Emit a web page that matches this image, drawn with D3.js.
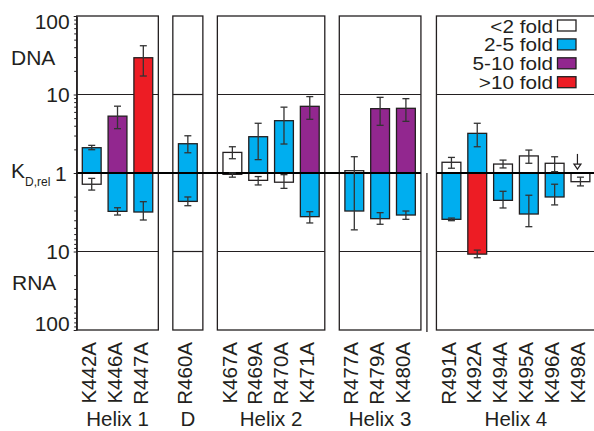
<!DOCTYPE html>
<meta charset="utf-8">
<script src="https://d3js.org/d3.v7.min.js"></script>
<style>
  body { margin: 0; background: #fff; }
  text { font-family: "Liberation Sans", Arial, sans-serif; fill: #231f20; }
</style>
<body>
<div id="chart"></div>
<script>
// panels and mutants
var groups = ["Helix 1", "D", "Helix 2", "Helix 3", "Helix 4"];
var groupSizes = [3, 1, 4, 3, 6];
var mutants = ["K442A", "K446A", "R447A", "R460A", "K467A", "R469A", "R470A", "K471A",
  "R477A", "R479A", "K480A", "R491A", "K492A", "K494A", "K495A", "K496A", "K498A"];

// fold preference for DNA (bars up) and RNA (bars down), with error bar ends
var dnaFold = [2.1, 5.3, 29.4, 2.36, 1.83, 2.9, 4.64, 7.07, 1.07, 6.6, 6.67, 1.37, 3.2, 1.30, 1.65, 1.33, null];
var dnaLo   = [1.98, 3.67, 17.2, 1.81, 1.52, 1.48, 2.34, 4.83, null, 4.05, 4.55, 1.15, 2.16, 1.16, 1.33, 1.04, null];
var dnaHi   = [2.25, 7.1, 41.8, 2.98, 2.16, 4.3, 6.9, 9.4, null, 9.2, 8.85, 1.58, 4.3, 1.46, 1.96, 1.61, null];
var rnaFold = [1.39, 3.08, 3.14, 2.3, 1.04, 1.24, 1.31, 3.6, 3.05, 3.82, 3.43, 3.89, 10.8, 2.23, 3.33, 2.02, 1.29];
// values below 1 sit on the DNA side (1/x)
var rnaLo   = [1.17, 2.77, 2.32, 2.02, 1.0, 1.11, 1.05, 3.11, 0.62, 3.2, 3.05, 3.75, 9.6, 1.71, 1.92, 1.39, 1.13];
var rnaHi   = [1.65, 3.43, 3.97, 2.61, 1.13, 1.42, 1.57, 4.33, 5.3, 4.5, 3.89, 4.05, 12.0, 2.79, 4.83, 2.55, 1.46];
// mutant with DNA binding below detection, drawn as an arrow
var arrowMutant = "K498A";
var arrowSpan = [1.75, 1.12];

var foldLabels = ["<2 fold", "2-5 fold", "5-10 fold", ">10 fold"];
var foldColors = ["#ffffff", "#00aeef", "#92278f", "#ed1c24"];
var majorTicks = [1, 10, 100];
var minorTicks = [2, 3, 4, 5, 6, 7, 8, 9, 20, 30, 40, 50, 60, 70, 80, 90];

var width = 594, height = 431;
var svg = d3.select("#chart").append("svg")
  .attr("width", width)
  .attr("height", height);

var yUp = d3.scaleLog().domain([1, 100]).range([173, 16]);
var yDn = d3.scaleLog().domain([1, 100]).range([173, 330]);
var color = d3.scaleThreshold().domain([2, 5, 10]).range(foldColors);

function yAt(side, v) {
  if (side == "dna") return v >= 1 ? yUp(v) : yDn(1 / v);
  return v >= 1 ? yDn(v) : yUp(1 / v);
}

// lay out the panels
var step = 25.8, pI = 0.27, pO = 0.217;
var gaps = [14.5, 14.5, 14.5, 15.5];
var panels = [];
var px = 76.7, idx = 0;
groupSizes.forEach(function(n, i) {
  var w = step * (n - pI + 2 * pO);
  var names = mutants.slice(idx, idx + n);
  var band = d3.scaleBand().domain(names).range([px, px + w]).paddingInner(pI).paddingOuter(pO);
  panels.push({ name: groups[i], x0: px, x1: px + w, band: band, start: idx, n: n });
  idx += n;
  px += w + (gaps[i] || 0);
});

var rows = [];
panels.forEach(function(p) {
  d3.range(p.start, p.start + p.n).forEach(function(i) {
    rows.push({ name: mutants[i], x: p.band(mutants[i]), bw: p.band.bandwidth(),
      dna: dnaFold[i], dLo: dnaLo[i], dHi: dnaHi[i],
      rna: rnaFold[i], rLo: rnaLo[i], rHi: rnaHi[i] });
  });
});

// panel frames and 10-fold lines
panels.forEach(function(p) {
  svg.append("rect")
    .attr("x", p.x0).attr("y", yUp(100))
    .attr("width", p.x1 - p.x0).attr("height", yDn(100) - yUp(100))
    .attr("fill", "none").attr("stroke", "#231f20").attr("stroke-width", 1.3);
  [yUp(10), yDn(10)].forEach(function(yy) {
    svg.append("line")
      .attr("x1", p.x0).attr("x2", p.x1).attr("y1", yy).attr("y2", yy)
      .attr("stroke", "#231f20").attr("stroke-width", 1.2);
  });
});

// separator before helix 4
var sepX = panels[3].x1 + 6;
svg.append("line")
  .attr("x1", sepX).attr("x2", sepX).attr("y1", yUp(1)).attr("y2", yDn(100) + 2)
  .attr("stroke", "#231f20").attr("stroke-width", 1.3);

// bars
svg.append("g").selectAll("rect")
  .data(rows.filter(function(d) { return d.dna != null; }))
  .enter().append("rect")
  .attr("x", function(d) { return d.x; })
  .attr("width", function(d) { return d.bw; })
  .attr("y", function(d) { return yUp(d.dna); })
  .attr("height", function(d) { return yUp(1) - yUp(d.dna); })
  .attr("fill", function(d) { return color(d.dna); })
  .attr("stroke", "#231f20").attr("stroke-width", 1.3);

svg.append("g").selectAll("rect")
  .data(rows)
  .enter().append("rect")
  .attr("x", function(d) { return d.x; })
  .attr("width", function(d) { return d.bw; })
  .attr("y", yDn(1))
  .attr("height", function(d) { return yDn(d.rna) - yDn(1); })
  .attr("fill", function(d) { return color(d.rna); })
  .attr("stroke", "#231f20").attr("stroke-width", 1.3);

// the 1 line
svg.append("line")
  .attr("x1", panels[0].x0).attr("x2", panels[3].x1).attr("y1", yUp(1)).attr("y2", yUp(1))
  .attr("stroke", "#000").attr("stroke-width", 2);
svg.append("line")
  .attr("x1", panels[4].x0).attr("x2", panels[4].x1).attr("y1", yUp(1)).attr("y2", yUp(1))
  .attr("stroke", "#000").attr("stroke-width", 2);

// error bars
function errorBar(cx, a, b) {
  var g = svg.append("g").attr("stroke", "#333").attr("stroke-width", 1.3);
  g.append("line").attr("x1", cx).attr("x2", cx).attr("y1", a).attr("y2", b);
  [a, b].forEach(function(yy) {
    g.append("line").attr("x1", cx - 3.5).attr("x2", cx + 3.5).attr("y1", yy).attr("y2", yy);
  });
}
rows.forEach(function(d) {
  var cx = d.x + d.bw / 2;
  if (d.dLo != null) errorBar(cx, yAt("dna", d.dLo), yAt("dna", d.dHi));
  if (d.rLo != null) errorBar(cx, yAt("rna", d.rLo), yAt("rna", d.rHi));
});

// arrow for the undetected DNA value
var ar = rows.find(function(d) { return d.name == arrowMutant; });
var ax = ar.x + ar.bw / 2 - 3;
var ay0 = yUp(arrowSpan[0]), ay1 = yUp(arrowSpan[1]);
svg.append("line").attr("x1", ax).attr("x2", ax).attr("y1", ay0).attr("y2", ay1 - 5)
  .attr("stroke", "#231f20").attr("stroke-width", 1.2);
svg.append("path")
  .attr("d", "M" + (ax - 3.5) + "," + (ay1 - 5) + "L" + (ax + 3.5) + "," + (ay1 - 5) + "L" + ax + "," + ay1 + "Z")
  .attr("fill", "#fff").attr("stroke", "#231f20").attr("stroke-width", 1.2);

// y axis
var axX = panels[0].x0;
function styleAxis(g) {
  g.select(".domain").attr("stroke", "#231f20").attr("stroke-width", 1.3);
  g.selectAll(".tick line").attr("stroke", "#231f20");
  g.selectAll("text").attr("font-size", 21).attr("fill", "#231f20")
    .style("font-family", "'Liberation Sans', Arial, sans-serif");
}
var aUp = svg.append("g").attr("transform", "translate(" + axX + ",0)")
  .call(d3.axisLeft(yUp).tickValues(majorTicks).tickFormat(d3.format("d"))
    .tickSize(3).tickSizeOuter(0).tickPadding(4));
styleAxis(aUp);
aUp.selectAll("text")
  .attr("dy", function(d) { return d == 100 ? "0.58em" : "0.34em"; })
  .attr("x", function(d) { return d == 1 ? -10 : -7; });

var aDn = svg.append("g").attr("transform", "translate(" + axX + ",0)")
  .call(d3.axisLeft(yDn).tickValues([10, 100]).tickFormat(d3.format("d"))
    .tickSize(3).tickSizeOuter(0).tickPadding(4));
styleAxis(aDn);
aDn.selectAll("text")
  .attr("dy", function(d) { return d == 100 ? "0em" : "0.34em"; });

[yUp, yDn].forEach(function(sc) {
  var m = svg.append("g").attr("transform", "translate(" + axX + ",0)")
    .call(d3.axisLeft(sc).tickValues(minorTicks).tickFormat("").tickSize(2.5).tickSizeOuter(0));
  m.select(".domain").remove();
  m.selectAll(".tick line").attr("stroke", "#231f20");
});

// side labels
svg.append("text").attr("x", 11).attr("y", 65).attr("font-size", 21).text("DNA");
svg.append("text").attr("x", 12).attr("y", 290).attr("font-size", 21).text("RNA");
var kd = svg.append("text").attr("x", 11).attr("y", 178).attr("font-size", 21);
kd.append("tspan").text("K");
kd.append("tspan").attr("font-size", 12).attr("dy", 8).text("D,rel");

// mutant labels
svg.append("g").selectAll("text")
  .data(rows)
  .enter().append("text")
  .attr("transform", function(d) {
    return "translate(" + (d.x + d.bw / 2 - 3) + ",342) rotate(-90)";
  })
  .attr("dy", "0.35em")
  .attr("text-anchor", "end")
  .attr("font-size", 20.5)
  .text(function(d) { return d.name; });

// group labels
svg.append("g").selectAll("text")
  .data(panels)
  .enter().append("text")
  .attr("x", function(d) { return (d.x0 + d.x1) / 2; })
  .attr("y", 426)
  .attr("text-anchor", "middle")
  .attr("font-size", 20.5)
  .text(function(d) { return d.name; });

// legend
var legend = svg.append("g").selectAll("g")
  .data(foldLabels)
  .enter().append("g")
  .attr("transform", function(d, i) { return "translate(553," + (20 + i * 18.9) + ")"; });
legend.append("rect")
  .attr("x", 4.5).attr("y", 0).attr("width", 18.5).attr("height", 11)
  .attr("fill", function(d, i) { return foldColors[i]; })
  .attr("stroke", "#231f20").attr("stroke-width", 1.3);
legend.append("text")
  .attr("transform", "translate(0,12.5) scale(1.15,1)")
  .attr("text-anchor", "end")
  .attr("font-size", 18)
  .text(function(d) { return d; });
</script>
</body>
